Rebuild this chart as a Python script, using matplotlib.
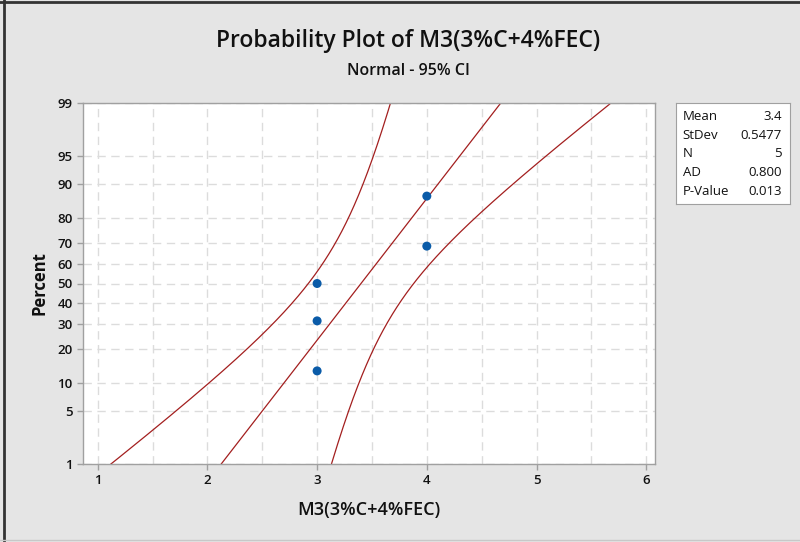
import numpy as np
import matplotlib
matplotlib.use("Agg")
import matplotlib.pyplot as plt
from statistics import NormalDist

# Data
values = [3, 3, 3, 4, 4]
percents = [13.0, 31.5, 50.0, 68.5, 87.0]
mean = 3.4
stdev = 0.5477
n = 5

y_ticks = [1, 5, 10, 20, 30, 40, 50, 60, 70, 80, 90, 95, 99]
x_ticks = [1, 2, 3, 4, 5, 6]

stats_labels = ["Mean", "StDev", "N", "AD", "P-Value"]
stats_values = ["3.4", "0.5477", "5", "0.800", "0.013"]

nd = NormalDist()
z = lambda p: nd.inv_cdf(p / 100.0)

plt.rcParams["font.family"] = ["Open Sans", "DejaVu Sans"]

fig = plt.figure(figsize=(8, 5.42), dpi=100)
fig.patch.set_facecolor("#e5e5e5")

ax = fig.add_axes([83 / 800, 1 - 464 / 542, (655 - 83) / 800, (464 - 103) / 542])
ax.set_facecolor("white")

# Fitted line and 95% CI
zz = np.linspace(z(0.5), z(99.5), 400)
fit = mean + zz * stdev
half = 1.96 * stdev / np.sqrt(n) * np.sqrt(1 + zz ** 2 * n / (2 * (n - 1)))
line_col = "#a31f1f"
ax.plot(fit, zz, color=line_col, lw=0.9)
ax.plot(fit - half, zz, color=line_col, lw=0.9)
ax.plot(fit + half, zz, color=line_col, lw=0.9)

ax.scatter(values, [z(p) for p in percents], s=42, color="#0a5ba8", zorder=5, edgecolors="none")

ax.set_xlim(0.866, 6.08)
ax.set_ylim(z(1), z(99))
ax.set_xticks(x_ticks)
ax.set_xticklabels([str(v) for v in x_ticks])
ax.set_yticks([z(p) for p in y_ticks])
ax.set_yticklabels([str(p) for p in y_ticks])

# grid
for xv in np.arange(1, 6.01, 0.5):
    ax.axvline(xv, color="#dcdcdc", lw=1, ls=(0, (6, 4)), zorder=0)
for p in y_ticks:
    ax.axhline(z(p), color="#dcdcdc", lw=1, ls=(0, (6, 4)), zorder=0)

for s in ax.spines.values():
    s.set_color("#a0a0a0")
    s.set_linewidth(1)
ax.tick_params(colors="#a0a0a0", labelcolor="#111111", labelsize=9.5, length=4, width=1)
for lab in ax.get_xticklabels() + ax.get_yticklabels():
    lab.set_fontweight("semibold")

ax.set_xlabel("M3(3%C+4%FEC)", fontsize=13, color="#111111", labelpad=10, fontweight="semibold")
ax.set_ylabel("Percent", fontsize=12, fontweight="bold", color="#111111", labelpad=6)

fig.text(0.51, 1 - 41 / 542, "Probability Plot of M3(3%C+4%FEC)", ha="center", va="center",
         fontsize=16.5, color="#111111", fontweight="semibold")
fig.text(0.51, 1 - 71 / 542, "Normal - 95% CI", ha="center", va="center",
         fontsize=11.5, color="#111111", fontweight="semibold")

# stats box
bx = fig.add_axes([676 / 800, 1 - 204 / 542, (790 - 676) / 800, (204 - 103) / 542])
bx.set_facecolor("white")
bx.set_xticks([])
bx.set_yticks([])
for s in bx.spines.values():
    s.set_color("#a0a0a0")
for i, (lab, val) in enumerate(zip(stats_labels, stats_values)):
    yy = 1 - (i + 0.5) / 5.4 - 0.04
    bx.text(0.06, yy, lab, ha="left", va="center", fontsize=9.5, transform=bx.transAxes, color="#111111")
    bx.text(0.93, yy, val, ha="right", va="center", fontsize=9.5, transform=bx.transAxes, color="#111111")

# frame border lines
fig.add_artist(plt.Line2D([4 / 800, 4 / 800], [0, 1], transform=fig.transFigure, color="#333333", lw=2))
fig.add_artist(plt.Line2D([0, 1], [1 - 1.5 / 542, 1 - 1.5 / 542], transform=fig.transFigure, color="#333333", lw=2))
fig.add_artist(plt.Line2D([0, 1], [1 - 540 / 542, 1 - 540 / 542], transform=fig.transFigure, color="#c8c8c8", lw=1))

fig.savefig("out.png", dpi=100, facecolor=fig.get_facecolor())
